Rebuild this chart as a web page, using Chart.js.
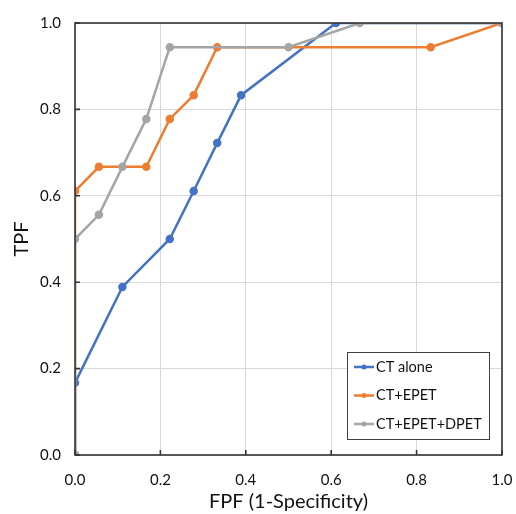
<!DOCTYPE html>
<html><head><meta charset="utf-8">
<script src="https://cdn.jsdelivr.net/npm/chart.js@4/dist/chart.umd.min.js"></script>
<style>html,body{margin:0;padding:0;background:#fff}#wrap{width:516px;height:514px}</style>
</head><body><div id="wrap"><canvas id="c" width="516" height="514"></canvas></div>
<script>
const seriesNames = ["CT alone", "CT+EPET", "CT+EPET+DPET"];
const ctFPF = [0, 0, 0.111, 0.222, 0.278, 0.333, 0.389, 0.611, 1.0];
const ctTPF = [0, 0.167, 0.389, 0.5, 0.611, 0.722, 0.833, 1.0, 1.0];
const epetFPF = [0, 0, 0.056, 0.167, 0.222, 0.278, 0.333, 0.833, 1.0];
const epetTPF = [0, 0.611, 0.667, 0.667, 0.778, 0.833, 0.944, 0.944, 1.0];
const dpetFPF = [0, 0, 0.056, 0.111, 0.167, 0.222, 0.5, 0.667, 1.0];
const dpetTPF = [0, 0.5, 0.556, 0.667, 0.778, 0.944, 0.944, 1.0, 1.0];
const tickValues = [0, 0.2, 0.4, 0.6, 0.8, 1.0];
const colors = ["#4472C4", "#ED7D31", "#A5A5A5"];
const FONT = "Lato, 'Open Sans', sans-serif";

function pts(xs, ys){ return xs.map((x,i)=>({x:x, y:ys[i]})); }
const allSeries = [pts(ctFPF,ctTPF), pts(epetFPF,epetTPF), pts(dpetFPF,dpetTPF)];

const framePlugin = {
  id: 'frame',
  afterDatasetsDraw(chart){
    const {ctx, chartArea:a, scales} = chart;
    ctx.save();
    ctx.strokeStyle = '#333';
    ctx.lineWidth = 1.6;
    ctx.strokeRect(a.left, a.top, a.right-a.left, a.bottom-a.top);
    ctx.beginPath();
    tickValues.forEach(v=>{
      const px = scales.x.getPixelForValue(v);
      ctx.moveTo(px, a.bottom); ctx.lineTo(px, a.bottom-5);
      const py = scales.y.getPixelForValue(v);
      ctx.moveTo(a.left, py); ctx.lineTo(a.left+5, py);
    });
    ctx.stroke();
    // legend
    const bx = 347, by = 352, bw = 142, bh = 87;
    ctx.fillStyle = '#fff';
    ctx.fillRect(bx, by, bw, bh);
    ctx.strokeStyle = '#404040'; ctx.lineWidth = 1;
    ctx.strokeRect(bx+0.5, by+0.5, bw, bh);
    ctx.font = "14.5px " + FONT;
    ctx.textBaseline = 'middle';
    seriesNames.forEach((n,i)=>{
      const y = by + 15 + i*28.5;
      ctx.strokeStyle = colors[i]; ctx.lineWidth = 2.5;
      ctx.beginPath(); ctx.moveTo(bx+7, y); ctx.lineTo(bx+27, y); ctx.stroke();
      ctx.fillStyle = colors[i];
      ctx.beginPath(); ctx.arc(bx+17, y, 2.5, 0, Math.PI*2); ctx.fill();
      ctx.fillStyle = '#111';
      ctx.fillText(n, bx+29, y);
    });
    ctx.restore();
  }
};

new Chart(document.getElementById('c'), {
  type: 'scatter',
  data: {
    datasets: allSeries.map((d,i)=>({
      label: seriesNames[i],
      data: d,
      showLine: true,
      borderColor: colors[i],
      backgroundColor: colors[i],
      borderWidth: 2.5,
      pointRadius: 3,
      pointHoverRadius: 3,
      tension: 0,
      order: 3-i
    }))
  },
  options: {
    responsive: false,
    animation: false,
    layout: { padding: { top: 23, right: 14, left: 0, bottom: 0 } },
    plugins: { legend: { display: false }, tooltip: { enabled: false } },
    scales: {
      x: {
        type: 'linear', min: 0, max: 1,
        afterBuildTicks(s){ s.ticks = tickValues.map(v=>({value:v})); },
        afterFit(s){ s.height = 59; s.paddingLeft = 0; s.paddingRight = 0; },
        grid: { color: '#d9d9d9', lineWidth: 1, drawTicks: false },
        border: { display: false },
        ticks: { padding: 16, color: '#111', font: { family: FONT, size: 15 }, callback: v=>Number(v).toFixed(1) },
        title: { display: true, text: 'FPF (1-Specificity)', color: '#111', font: { family: FONT, size: 20 }, padding: { top: 2, bottom: 0 } }
      },
      y: {
        type: 'linear', min: 0, max: 1,
        afterBuildTicks(s){ s.ticks = tickValues.map(v=>({value:v})); },
        afterFit(s){ s.width = 75; s.paddingTop = 0; s.paddingBottom = 0; },
        grid: { color: '#d9d9d9', lineWidth: 1, drawTicks: false },
        border: { display: false },
        ticks: { padding: 14, color: '#111', font: { family: FONT, size: 15 }, callback: v=>Number(v).toFixed(1) },
        title: { display: true, text: 'TPF', color: '#111', font: { family: FONT, size: 20 }, padding: { top: 10, bottom: 0 } }
      }
    }
  },
  plugins: [framePlugin]
});
</script></body></html>
